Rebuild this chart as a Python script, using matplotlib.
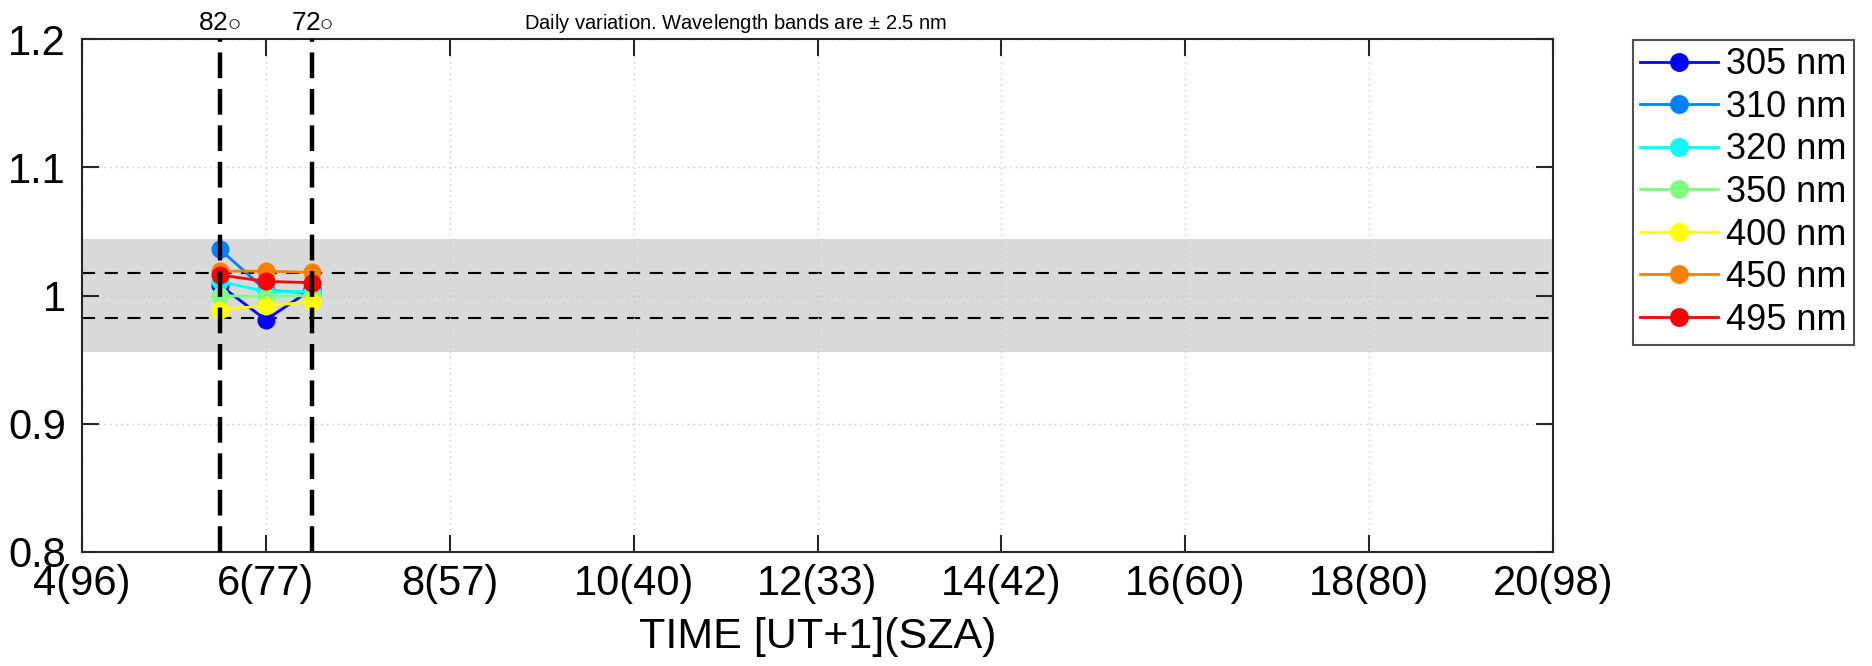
import matplotlib
matplotlib.use("Agg")
import matplotlib.pyplot as plt

plt.rcParams['font.family'] = ['Liberation Sans', 'DejaVu Sans']
plt.rcParams['mathtext.fontset'] = 'custom'
plt.rcParams['mathtext.rm'] = 'Liberation Sans'

times = [5.5, 6.0, 6.5]
labels = ["305 nm", "310 nm", "320 nm", "350 nm", "400 nm", "450 nm", "495 nm"]
colors = ["#0000ff", "#0080ff", "#00ffff", "#80ff80", "#ffff00", "#ff8000", "#ff0000"]
v305 = [1.008, 0.981, 1.005]
v310 = [1.036, 1.004, 1.002]
v320 = [1.011, 1.003, 1.003]
v350 = [1.000, 0.999, 1.000]
v400 = [0.989, 0.992, 0.995]
v450 = [1.019, 1.019, 1.018]
v495 = [1.016, 1.011, 1.010]
series = [v305, v310, v320, v350, v400, v450, v495]

xticks = [4, 6, 8, 10, 12, 14, 16, 18, 20]
xticklabels = ["4(96)", "6(77)", "8(57)", "10(40)", "12(33)", "14(42)", "16(60)", "18(80)", "20(98)"]
yticks = [0.8, 0.9, 1.0, 1.1, 1.2]
yticklabels = ["0.8", "0.9", "1", "1.1", "1.2"]
band = 0.044
inner = 0.0175
sza_times = [5.5, 6.5]
sza_labels = ["82", "72"]

fig = plt.figure(figsize=(18.72, 6.66), dpi=100)
ax = fig.add_axes([0.0438, 0.1712, 0.8296 - 0.0438, 0.9414 - 0.1712])

ax.axhspan(1 - band, 1 + band, color="#d9d9d9", zorder=0, lw=0)
ax.axhline(1 + inner, color="black", ls=(0, (6.3, 4.6)), lw=1.5, zorder=1)
ax.axhline(1 - inner, color="black", ls=(0, (6.3, 4.6)), lw=1.5, zorder=1)

for vals, c, lab in zip(series, colors, labels):
    ax.plot(times, vals, "-o", color=c, lw=2, ms=12, label=lab, zorder=3)

for t, s in zip(sza_times, sza_labels):
    ax.axvline(t, color="black", ls=(0, (5.8, 2.4)), lw=3.2, zorder=4)
    ax.text(t, 1.2035, s + r"$\circ$", ha="center", va="bottom", fontsize=19,
            transform=ax.transData, clip_on=False)

ax.set_xlim(4, 20)
ax.set_ylim(0.8, 1.2)
ax.set_xticks(xticks)
ax.set_xticklabels(xticklabels)
ax.set_yticks(yticks)
ax.set_yticklabels(yticklabels)
ax.grid(True, ls=(0, (1, 3)), color="#c8c8c8", lw=1, zorder=0.5)
ax.tick_params(direction="in", length=12, width=1.5, labelsize=30, top=True, right=True,
               color="#262626")
ax.tick_params(axis="y", pad=11.5)
ax.tick_params(axis="x", pad=9)
for sp in ax.spines.values():
    sp.set_linewidth(1.5)
    sp.set_color("#262626")
ax.set_xlabel("TIME [UT+1](SZA)", fontsize=31)
ax.xaxis.set_label_coords(0.5, -0.1267)

fig.text(736 / 1872, 1 - 29 / 666, r"Daily variation. Wavelength bands are $\pm$ 2.5 nm",
         ha="center", va="baseline", fontsize=14.5)

leg = ax.legend(loc="upper left", bbox_to_anchor=(1633 / 1872, 1 - 40 / 666),
                bbox_transform=fig.transFigure, fontsize=26, handlelength=2.16,
                frameon=True, fancybox=False, edgecolor="#262626", borderpad=0.2,
                labelspacing=0.21, handletextpad=0.22, borderaxespad=0, markerscale=1.05)
leg.get_frame().set_linewidth(1.5)

fig.savefig("out.png", dpi=100)
